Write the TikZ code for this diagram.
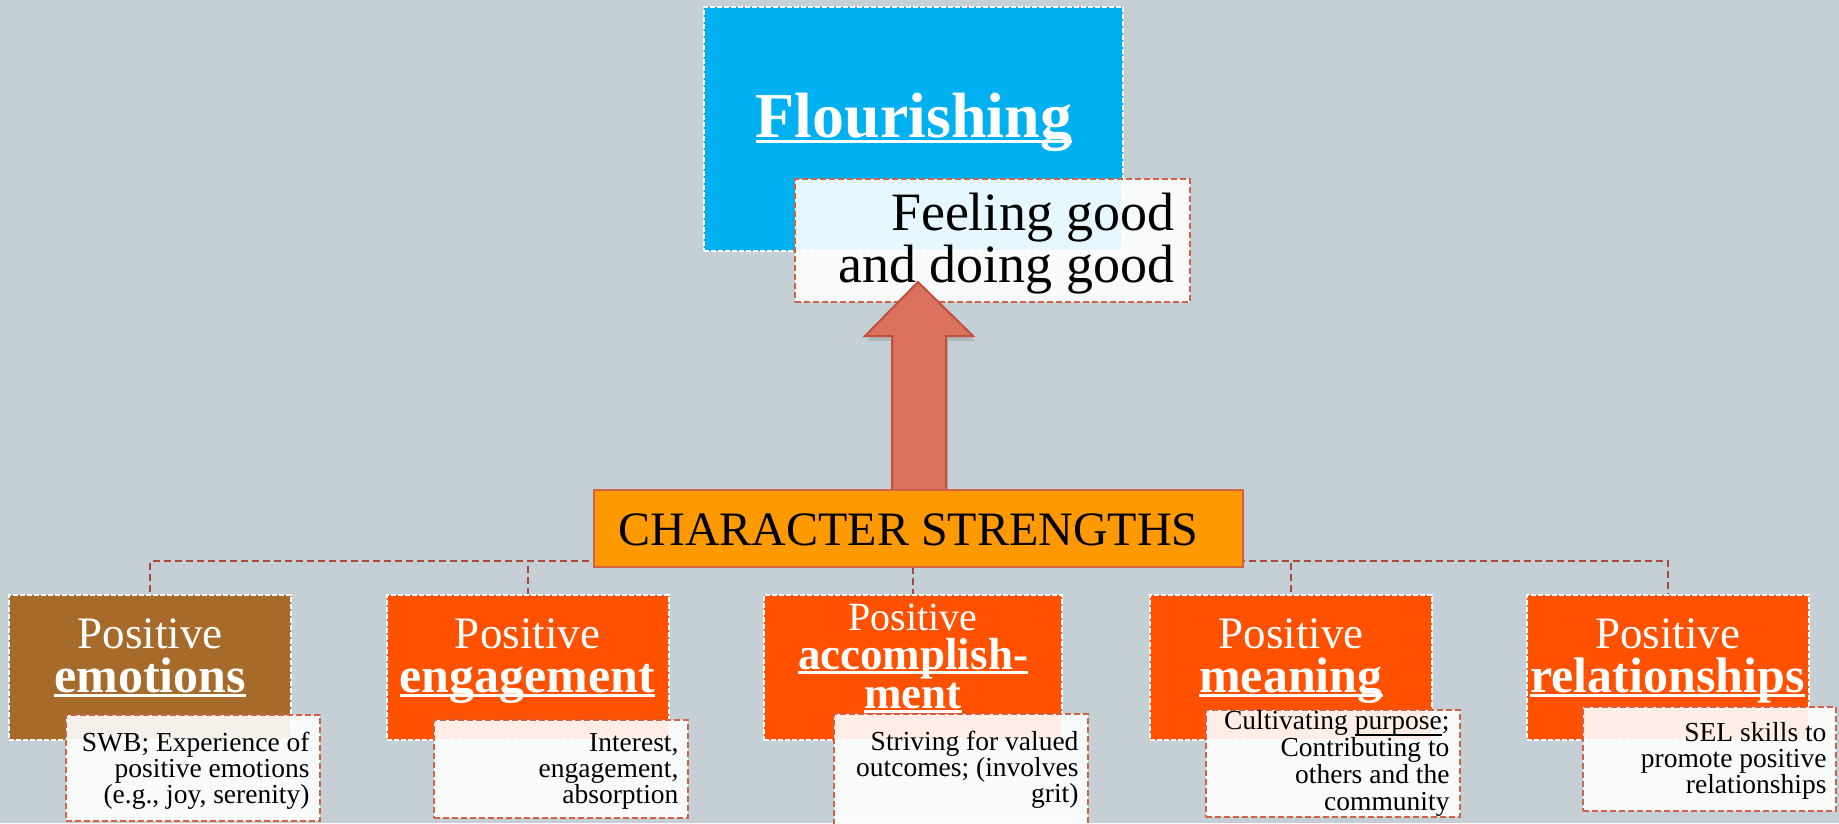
\documentclass[tikz,border=0pt]{standalone}
\usepackage{fontspec}
\setmainfont{Liberation Serif}
\usetikzlibrary{shadows,backgrounds}

\definecolor{slate}{RGB}{197,208,214}
\definecolor{skyblue}{RGB}{0,176,240}
\definecolor{amber}{RGB}{255,153,0}
\definecolor{rust}{RGB}{255,81,0}
\definecolor{bronze}{RGB}{166,107,42}
\definecolor{paper}{RGB}{255,255,255}
\definecolor{brick}{RGB}{170,72,58}
\definecolor{coral}{RGB}{218,114,94}
\definecolor{coraledge}{RGB}{192,80,60}
\definecolor{boxedge}{RGB}{208,98,72}

% underline at a fixed depth below the baseline
\newcommand{\undl}[2][0.1em]{\setbox0=\hbox{#2}\rlap{\rule[-#1]{\wd0}{0.06em}}\box0}
\newcommand{\hw}[1]{{\fontsize{50}{44}\selectfont\bfseries\undl{#1}}}

\tikzset{
  topbox/.style={inner sep=0, draw=white, line width=2pt, dash pattern=on 5pt off 2pt,
    minimum width=282, minimum height=145, fill=rust},
  notebox/.style={inner sep=0, draw=boxedge, line width=2pt, dash pattern=on 6pt off 3pt,
    fill=paper, fill opacity=0.9, minimum width=254},
  headtxt/.style={text=white, align=center, anchor=base, font=\fontsize{45}{44}\selectfont},
  notetxt/.style={align=right, anchor=base east, font=\fontsize{27.5}{26}\selectfont},
  link/.style={draw=brick, line width=2pt, dash pattern=on 7pt off 4pt},
  bigarrow/.style={fill=coral, draw=coraledge, line width=2pt,
    drop shadow={shadow xshift=2pt, shadow yshift=-5pt, opacity=0.3}}
}

\begin{document}
\begin{tikzpicture}[x=1pt,y=-1pt]
\useasboundingbox (0,0) rectangle (1839,823);
%flourishing (multi-line texts sit on their last baseline)
\node[topbox, fill=skyblue, minimum width=419, minimum height=244] (flour) at (913.5,129) {};
\node[headtxt, font=\fontsize{64}{70}\selectfont\bfseries] (flourtxt) at (914,137) {\undl{Flourishing}};
\node[notebox, minimum width=395, minimum height=123] (feel) at (992.5,240.5) {};
\node[notetxt, font=\fontsize{54}{52}\selectfont] (feeltxt) at (1178,282) {Feeling good\\and doing good};
\draw[bigarrow] (892,490) |- (865,336) -- (918,282) -- (973,336) -| (946,490) -- cycle;
%character strengths
\node[draw=boxedge, line width=2pt, fill=amber, minimum width=649, minimum height=77, inner sep=0] (cs) at (918.5,528.5) {};
\node[anchor=base west, font=\fontsize{48}{52}\selectfont] (cstxt) at (615,545) {CHARACTER STRENGTHS};
%the five pillars
\node[topbox, fill=bronze] (emo) at (150,667.5) {};
\node[topbox] (eng) at (527.5,667.5) {};
\node[topbox, minimum width=298] (acc) at (913,667.5) {};
\node[topbox] (mean) at (1291,667.5) {};
\node[topbox] (rel) at (1667.5,667.5) {};
\node[headtxt] (emotxt) at (150,692) {Positive\\\hw{emotions}};
\node[headtxt] (engtxt) at (527.5,692) {Positive\\\hw{engagement}};
\node[headtxt, font=\fontsize{40}{39}\selectfont] (acctxt) at (913,708)
  {Positive\\{\fontsize{45}{39}\selectfont\bfseries\undl{accomplish-}}\\{\fontsize{45}{39}\selectfont\bfseries\undl{ment}}};
\node[headtxt] (meantxt) at (1291,692) {Positive\\\hw{meaning}};
\node[headtxt] (reltxt) at (1667.5,692) {Positive\\\hw{relationships}};
%notes
\node[notebox, minimum height=106] (emonote) at (192.5,768) {};
\node[notebox, minimum height=98] (engnote) at (561,769) {};
\node[notebox, minimum height=116] (accnote) at (961,772) {};
\node[notebox, minimum height=107] (meannote) at (1333,763.5) {};
\node[notebox, minimum width=253, minimum height=104] (relnote) at (1709.5,759) {};
\node[notetxt] (emonotetxt) at (313,803) {SWB; Experience of\\positive emotions\\(e.g., joy, serenity)};
\node[notetxt] (engnotetxt) at (682,803) {Interest,\\engagement,\\absorption};
\node[notetxt] (accnotetxt) at (1082,802) {Striving for valued\\outcomes; (involves\\grit)};
\node[notetxt, font=\fontsize{27.5}{27}\selectfont] (meannotetxt) at (1453,810)
  {Cultivating \undl[0.25em]{purpose};\\Contributing to\\others and the\\community};
\node[notetxt] (relnotetxt) at (1830,793) {SEL skills to\\promote positive\\relationships};
%links
\begin{pgfonlayer}{background}
\fill[slate] (0,0) rectangle (1839,823);
\coordinate (bus) at (0,561);
\foreach \kid in {emo,eng,acc,mean,rel}
  \draw[link] (cs.south |- bus) -| (\kid.north);
\end{pgfonlayer}
\end{tikzpicture}
\end{document}
